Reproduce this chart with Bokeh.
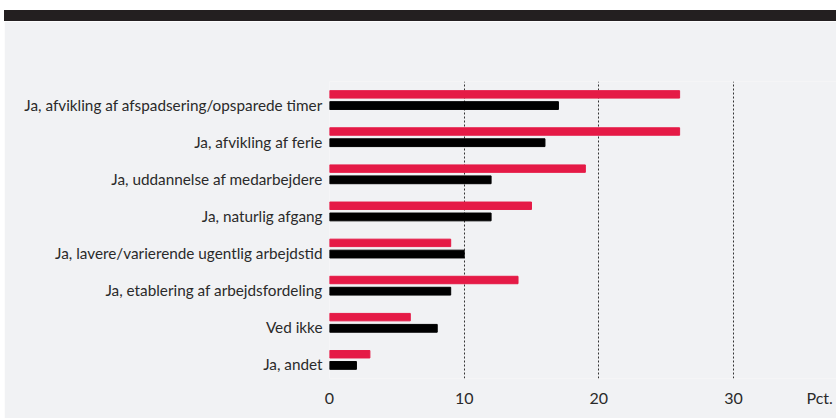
from bokeh.plotting import figure
from bokeh.models import Range1d, FixedTicker, Div, ColumnDataSource
from bokeh.layouts import column
from bokeh.embed import file_html
from bokeh.resources import INLINE

categories = [
    "Ja, afvikling af afspadsering/opsparede timer",
    "Ja, afvikling af ferie",
    "Ja, uddannelse af medarbejdere",
    "Ja, naturlig afgang",
    "Ja, lavere/varierende ugentlig arbejdstid",
    "Ja, etablering af arbejdsfordeling",
    "Ved ikke",
    "Ja, andet",
]
red_values = [26, 26, 19, 15, 9, 14, 6, 3]
black_values = [17, 16, 12, 12, 10, 9, 8, 2]
x_ticks = [0, 10, 20, 30]
unit_label = "Pct."

BG = "#f1f2f4"
RED = "#e51a46"
TXT = "#2a2a2a"
FONT = "Lato"

n = len(categories)
pos = [n - 1 - i for i in range(n)]
src = ColumnDataSource(dict(
    y_red=[p_ + 0.153 for p_ in pos],
    y_black=[p_ - 0.148 for p_ in pos],
    red=red_values,
    black=black_values,
))

p = figure(width=832, height=397, output_backend="svg", toolbar_location=None,
           x_range=Range1d(0, 37.65), y_range=Range1d(-0.5, n - 0.5),
           min_border_left=325, min_border_right=0, min_border_top=60,
           min_border_bottom=40, margin=(0, 0, 0, 4))
p.background_fill_color = BG
p.border_fill_color = BG
p.outline_line_color = None

p.hbar(y="y_red", right="red", left=0, height=0.2, color=RED, source=src)
p.hbar(y="y_black", right="black", left=0, height=0.21, color="#000000", source=src)

# x axis
unit_pos = 36.4
p.xaxis.ticker = FixedTicker(ticks=x_ticks + [unit_pos])
p.xaxis.major_label_overrides = {unit_pos: unit_label}
p.xaxis.axis_line_color = None
p.xaxis.major_tick_line_color = None
p.xaxis.minor_tick_line_color = None
p.xaxis.major_label_standoff = 3
p.xaxis.major_label_text_font = FONT
p.xaxis.major_label_text_font_size = "16px"
p.xaxis.major_label_text_color = TXT

# y axis
tick_pos = [p_ - 0.12 for p_ in pos]
p.yaxis.ticker = FixedTicker(ticks=tick_pos)
p.yaxis.major_label_overrides = {t: c for t, c in zip(tick_pos, categories)}
p.yaxis.axis_line_color = None
p.yaxis.major_tick_line_color = None
p.yaxis.minor_tick_line_color = None
p.yaxis.major_label_standoff = 1
p.yaxis.major_label_text_font = FONT
p.yaxis.major_label_text_font_size = "15.3px"
p.yaxis.major_label_text_color = TXT

p.ygrid.grid_line_color = None
p.xgrid.ticker = FixedTicker(ticks=x_ticks)
p.xgrid.grid_line_color = "#333333"
p.xgrid.grid_line_dash = "2 2"
p.xgrid.grid_line_width = 1

top_bar = Div(width=832, height=11, margin=(10, 0, 0, 4),
              styles={"background-color": "#231f20"})

layout = column(top_bar, p, spacing=0)
open("out.html", "w").write(file_html(layout, INLINE))
